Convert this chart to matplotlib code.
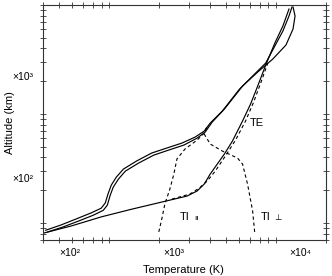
import matplotlib
matplotlib.use("Agg")
import numpy as np
import matplotlib.pyplot as plt
from matplotlib.ticker import LogLocator, NullFormatter, NullLocator

plt.rcParams['font.family'] = ['Liberation Sans', 'DejaVu Sans']

# upper solid branch (two close strands), temperature K / altitude km
upper1_t = [415, 512, 631, 778, 894, 946, 986, 1028, 1102, 1216, 1458, 1797, 2215, 2731,
            3275, 3715, 4037, 4770, 6053, 7254, 8695, 9862, 11020, 11990, 12500]
upper1_h = [86, 96, 109, 124, 137, 153, 188, 223, 264, 313, 371, 439, 488, 542,
            615, 698, 827, 1065, 1695, 2232, 2937, 4208, 5772, 7930, 9587]
upper2_t = [427, 526, 649, 800, 920, 973, 1014, 1057, 1134, 1250, 1499, 1848, 2279, 2809,
            3368, 3765, 4150, 4909, 6310, 7780, 9590, 11500, 12680, 13040, 12680]
upper2_h = [83, 92, 104, 118, 131, 146, 181, 214, 253, 300, 355, 420, 468, 520,
            602, 684, 845, 1111, 1806, 2428, 3197, 4295, 6025, 7930, 9587]

# lower solid branch and the dashed curve running beside it
lower_t = [404, 589, 894, 1359, 2066, 2929, 3368, 3715, 4037, 4450, 4909, 5486, 6310,
           7050, 7780, 8695, 9862, 11020, 11990]
lower_h = [81, 94, 114, 134, 156, 177, 197, 228, 282, 348, 430, 565, 863,
           1235, 1806, 2816, 4479, 6413, 9183]
lower_dash_t = [2376, 3053, 3460, 3872, 4329, 4977, 5727, 6577, 7356, 8110, 8948]
lower_dash_h = [166, 185, 209, 243, 300, 412, 577, 863, 1288, 1924, 2937]

# ion temperatures, parallel and perpendicular
ti_par_t = [1982, 2066, 2155, 2310, 2442, 2547, 2849, 3368, 3715, 3872]
ti_par_h = [83, 109, 149, 205, 282, 387, 478, 577, 669, 777]
ti_perp_t = [7459, 7254, 6761, 6310, 5888, 4770, 4037, 3715, 3872]
ti_perp_h = [83, 129, 228, 348, 395, 458, 531, 655, 777]

x_labels = ['×10²', '×10³', '×10⁴']
y_labels = ['×10²', '×10³']

fig = plt.figure(figsize=(3.32, 2.76), dpi=100)
ax = fig.add_axes([43 / 332, 36 / 276, 283 / 332, 235 / 276])

dash = (0, (3, 2.5))
ax.plot(upper1_t, upper1_h, color='black', lw=0.85)
ax.plot(upper2_t, upper2_h, color='black', lw=0.85)
ax.plot(lower_t, lower_h, color='black', lw=0.85)
ax.plot(lower_dash_t, lower_dash_h, color='black', lw=0.8, ls=dash)
ax.plot(ti_par_t, ti_par_h, color='black', lw=0.8, ls=dash)
ax.plot(ti_perp_t, ti_perp_h, color='black', lw=0.8, ls=dash)

ax.set_xscale('log')
ax.set_yscale('log')
ax.set_xlim(400, 20000)
ax.set_ylim(70, 10000)

for axis in (ax.xaxis, ax.yaxis):
    axis.set_major_locator(LogLocator(base=10, subs=np.arange(1, 10)))
    axis.set_minor_locator(NullLocator())
    axis.set_major_formatter(NullFormatter())
ax.tick_params(which='both', direction='inout', length=4, width=0.6,
               top=True, right=True, color='#333333')
for s in ax.spines.values():
    s.set_linewidth(0.8)
    s.set_color('#333333')

# tick labels sit off the ticks in the original, so put them as text
for lab, fx in zip(x_labels, [0.095, 0.463, 0.908]):
    ax.text(fx, -0.055, lab, transform=ax.transAxes, ha='center', va='center', fontsize=7.5)
for lab, fy in zip(y_labels, [0.26, 0.694]):
    ax.text(-0.035, fy, lab, transform=ax.transAxes, ha='right', va='center', fontsize=7.5)

ax.set_xlabel('Temperature (K)', fontsize=8)
ax.set_ylabel('Altitude (km)', fontsize=8)
ax.xaxis.set_label_coords(0.498, -0.105)
ax.yaxis.set_label_coords(-0.10, 0.5)

ax.text(7700, 827, 'TE', fontsize=8, ha='center', va='center')
ax.text(2640, 106, 'TI', fontsize=8, ha='left', va='baseline')
ax.annotate('ıı', (2640, 106), xytext=(10.5, 0), textcoords='offset points',
            fontsize=6, ha='left', va='baseline')
ax.text(8120, 106, 'TI', fontsize=8, ha='left', va='baseline')
ax.annotate('⊥', (8120, 106), xytext=(10, 0), textcoords='offset points',
            fontsize=6, ha='left', va='baseline', family=['DejaVu Sans'])

fig.savefig('out.png', dpi=100)
plt.close(fig)
